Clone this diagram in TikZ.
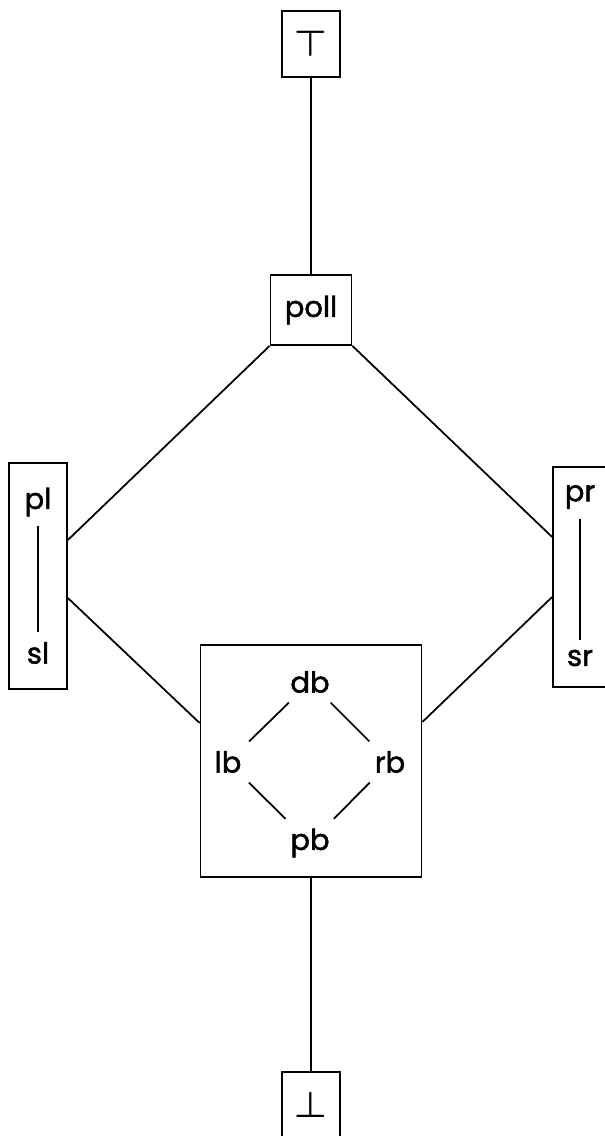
\documentclass[tikz,border=0pt]{standalone}
\usepackage{fontspec}
\newfontfamily\labfont{Poppins}[FakeBold=1.6]
\begin{document}
\begin{tikzpicture}[line width=1pt,
  box/.style={draw,minimum width=1.16cm,minimum height=1.32cm,inner sep=0pt},
  lab/.style={font=\fontsize{16.5}{18}\labfont,inner sep=5pt},
  sym/.style={font=\fontsize{22}{24}\selectfont\boldmath}]
  \useasboundingbox (0,0) rectangle (12.1,-22.72);
  \node[box,sym] (top) at (6.22,-0.88) {$\top$};
  \node[box,lab,minimum width=1.62cm,minimum height=1.4cm] (poll) at (6.22,-6.2) {poll};
  \node[box,minimum height=4.52cm] (lbox) at (0.76,-11.52) {};
  \node[box,minimum height=4.4cm] (rbox) at (11.64,-11.54) {};
  \node[box,minimum width=4.42cm,minimum height=4.64cm] (lat) at (6.22,-15.22) {};
  \node[box,sym] (bot) at (6.22,-22.1) {$\bot$};
  \node[lab] (pl) at (0.76,-10.04) {pl};
  \node[lab] (sl) at (0.76,-13.06) {sl};
  \node[lab] (pr) at (11.6,-9.94) {pr};
  \node[lab] (sr) at (11.6,-13.16) {sr};
  \node[lab] (db) at (6.2,-13.64) {db};
  \node[lab] (lb) at (4.56,-15.24) {lb};
  \node[lab] (rb) at (7.8,-15.24) {rb};
  \node[lab] (pb) at (6.2,-16.86) {pb};
  \draw (top) -- (poll);
  \draw (poll.south west) -- ([yshift=0.72cm]lbox.east);
  \draw (poll.south east) -- ([yshift=0.8cm]rbox.west);
  \draw ([yshift=-0.44cm]lbox.east) -- ([yshift=0.76cm]lat.west);
  \draw ([yshift=-0.4cm]rbox.west) -- ([yshift=0.78cm]lat.east);
  \draw (lat) -- (bot);
  \draw (pl) -- (sl);
  \draw (pr) -- (sr);
  \draw (db) -- (lb) (db) -- (rb) (lb) -- (pb) (rb) -- (pb);
\end{tikzpicture}
\end{document}
